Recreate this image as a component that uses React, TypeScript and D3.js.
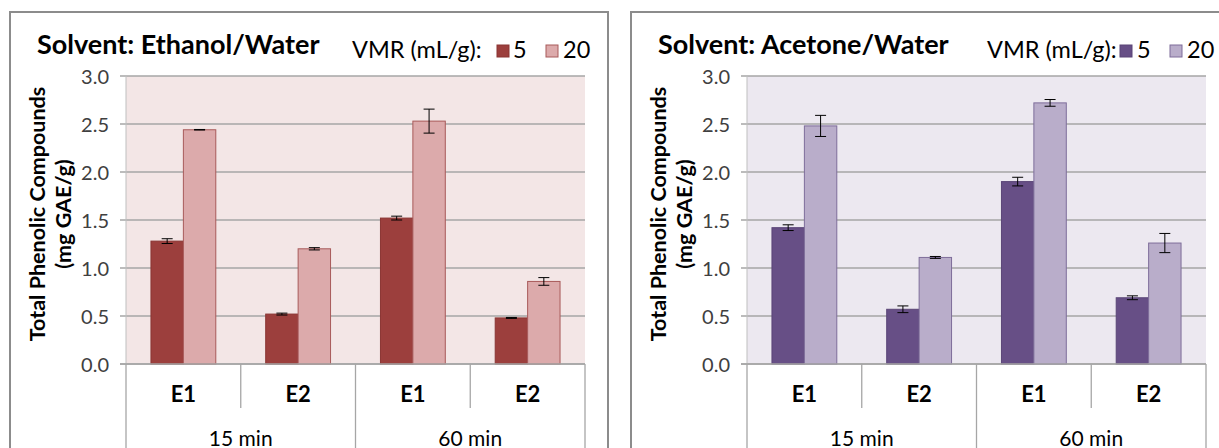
import * as d3 from "d3"

// categories along the x axis
const extracts = ["E1", "E2", "E1", "E2"]
const times = ["15 min", "60 min"]
const series = ["5", "20"]
const yTicks = [0, 0.5, 1.0, 1.5, 2.0, 2.5, 3.0]

// Total phenolic compounds (mg GAE/g)
const ethanol5 = [1.28, 0.52, 1.52, 0.48]
const ethanol5Err = [0.025, 0.01, 0.02, 0.005]
const ethanol20 = [2.44, 1.2, 2.53, 0.86]
const ethanol20Err = [0.003, 0.012, 0.125, 0.04]

const acetone5 = [1.42, 0.57, 1.9, 0.69]
const acetone5Err = [0.03, 0.035, 0.045, 0.02]
const acetone20 = [2.48, 1.11, 2.72, 1.26]
const acetone20Err = [0.11, 0.01, 0.035, 0.1]

const FONT = "Lato, 'Open Sans', sans-serif"

interface PanelProps {
  left: number
  title: string
  values: number[][]
  errors: number[][]
  colors: string[]
  strokes: string[]
  bg: string
  legend: { text: number; sw5: number; lab5: number; sw20: number; lab20: number }
}

function Panel({ left, title, values, errors, colors, strokes, bg, legend }: PanelProps) {
  const plotLeft = left + 116
  const plotRight = plotLeft + 459
  const top = 76
  const bottom = 364

  const x = d3
    .scaleBand<number>()
    .domain(d3.range(extracts.length))
    .range([plotLeft, plotRight])
  const inner = d3
    .scaleBand()
    .domain(series)
    .range([0, x.bandwidth()])
    .paddingInner(0)
    .paddingOuter(0.77)
  const xTime = d3.scaleBand().domain(times).range([plotLeft, plotRight])
  const y = d3.scaleLinear().domain([0, 3]).range([bottom, top])

  return (
    <g>
      <rect x={left} y={12} width={598} height={470} fill="#fff" stroke="#8c8c8c" strokeWidth={2} />
      <text x={left + 27} y={54} fontFamily={FONT} fontWeight="bold" fontSize={27} fill="#000">
        {title}
      </text>

      {/* legend */}
      <text x={legend.text} y={58} fontFamily={FONT} fontSize={23.5} fill="#000">
        VMR (mL/g):
      </text>
      <rect x={legend.sw5} y={45} width={12} height={12} fill={colors[0]} stroke={strokes[0]} />
      <text x={legend.lab5} y={58} fontFamily={FONT} fontSize={23.5} fill="#000">5</text>
      <rect x={legend.sw20} y={45} width={12} height={12} fill={colors[1]} stroke={strokes[1]} />
      <text x={legend.lab20} y={58} fontFamily={FONT} fontSize={23.5} fill="#000">20</text>

      {/* plot background and grid */}
      <rect x={plotLeft} y={top} width={plotRight - plotLeft} height={bottom - top} fill={bg} />
      {yTicks.map((t) => (
        <g key={t}>
          <line x1={plotLeft - 6} x2={plotRight} y1={y(t)} y2={y(t)} stroke="#a6a6a6" strokeWidth={1.3} />
          <text
            x={plotLeft - 17}
            y={y(t)}
            textAnchor="end"
            dominantBaseline="central"
            fontFamily={FONT}
            fontSize={20}
            fill="#404040"
          >
            {t.toFixed(1)}
          </text>
        </g>
      ))}
      <line x1={plotLeft} x2={plotLeft} y1={top} y2={bottom} stroke="#bfbfbf" />

      {/* y axis title */}
      <g fontFamily={FONT} fontWeight="bold" fontSize={21.5} fill="#000" textAnchor="middle">
        <text transform={`translate(${left + 27},214) rotate(-90)`} dominantBaseline="central">
          Total Phenolic Compounds
        </text>
        <text transform={`translate(${left + 53},214) rotate(-90)`} dominantBaseline="central">
          (mg GAE/g)
        </text>
      </g>

      {/* bars */}
      {series.map((s, si) =>
        values[si].map((v, i) => {
          const bx = (x(i) as number) + (inner(s) as number)
          const bw = inner.bandwidth()
          const cx = bx + bw / 2
          const e = errors[si][i]
          return (
            <g key={`${s}-${i}`}>
              <rect x={bx} y={y(v)} width={bw} height={bottom - y(v)} fill={colors[si]} stroke={strokes[si]} strokeWidth={1} />
              <g stroke="#000" strokeWidth={1}>
                <line x1={cx} x2={cx} y1={y(v + e)} y2={y(v - e)} />
                <line x1={cx - 5.5} x2={cx + 5.5} y1={y(v + e)} y2={y(v + e)} />
                <line x1={cx - 5.5} x2={cx + 5.5} y1={y(v - e)} y2={y(v - e)} />
              </g>
            </g>
          )
        })
      )}

      {/* category axis */}
      <line x1={plotLeft - 6} x2={plotRight} y1={bottom} y2={bottom} stroke="#a6a6a6" strokeWidth={1.3} />
      {extracts.map((c, i) => (
        <g key={i}>
          {i % 2 === 1 && (
            <line x1={x(i) as number} x2={x(i) as number} y1={bottom} y2={408} stroke="#a6a6a6" strokeWidth={1.3} />
          )}
          <text
            x={(x(i) as number) + x.bandwidth() / 2}
            y={393}
            textAnchor="middle"
            dominantBaseline="central"
            fontFamily={FONT}
            fontWeight="bold"
            fontSize={22}
            fill="#000"
          >
            {c}
          </text>
        </g>
      ))}
      {times.map((t) => (
        <g key={t}>
          <line x1={xTime(t) as number} x2={xTime(t) as number} y1={bottom} y2={448} stroke="#a6a6a6" strokeWidth={1.3} />
          <text
            x={(xTime(t) as number) + xTime.bandwidth() / 2}
            y={437}
            textAnchor="middle"
            dominantBaseline="central"
            fontFamily={FONT}
            fontSize={21}
            fill="#000"
          >
            {t}
          </text>
        </g>
      ))}
      <line x1={plotRight} x2={plotRight} y1={bottom} y2={448} stroke="#a6a6a6" strokeWidth={1.3} />
    </g>
  )
}

export default function App() {
  return (
    <svg width={1219} height={448} style={{ position: "absolute", left: 0, top: 0, background: "#fff" }}>
      <rect width={1219} height={448} fill="#fff" />
      <Panel
        left={10}
        title="Solvent: Ethanol/Water"
        values={[ethanol5, ethanol20]}
        errors={[ethanol5Err, ethanol20Err]}
        colors={["#9c3f3d", "#dcaaab"]}
        strokes={["#8a3533", "#a85a5a"]}
        bg="#f3e6e6"
        legend={{ text: 352, sw5: 497, lab5: 513, sw20: 546, lab20: 563 }}
      />
      <Panel
        left={631}
        title="Solvent: Acetone/Water"
        values={[acetone5, acetone20]}
        errors={[acetone5Err, acetone20Err]}
        colors={["#674f86", "#b9adca"]}
        strokes={["#5a4577", "#7e6d9a"]}
        bg="#ece8f0"
        legend={{ text: 987, sw5: 1120, lab5: 1137, sw20: 1170, lab20: 1187 }}
      />
    </svg>
  )
}
